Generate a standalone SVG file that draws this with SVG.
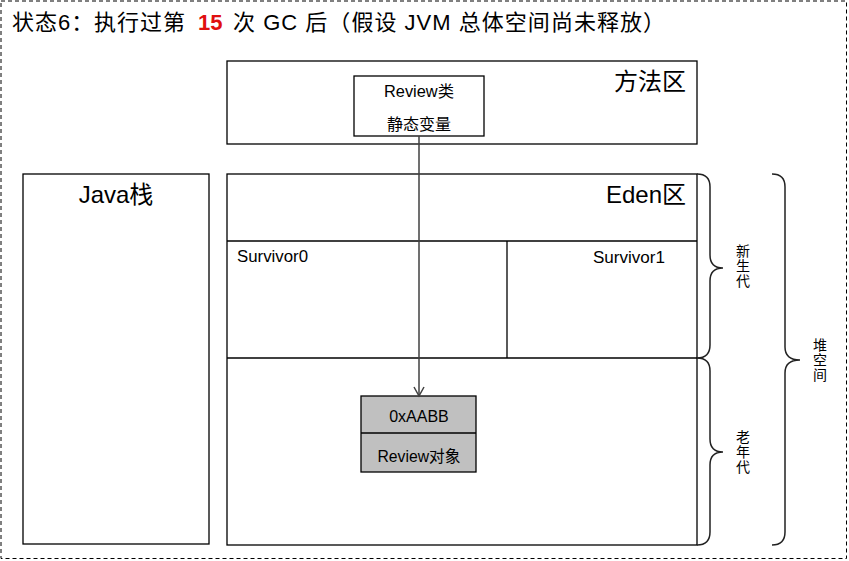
<svg xmlns="http://www.w3.org/2000/svg" width="849" height="561" viewBox="0 0 849 561">
<defs>
<style>
text{font-family:"Liberation Sans","Noto Sans CJK SC",sans-serif;fill:#000}
.box{fill:#fff;stroke:#000;stroke-width:1.3}
.ln{stroke:#000;stroke-width:1.3;fill:none}
.brace{fill:none;stroke:#222;stroke-width:1.5}
.big{font-size:24px}
.mid{font-size:16px}
.ttl{font-size:22px}
.vt{font-size:14px;text-anchor:middle}
</style>
<marker id="arr" markerWidth="12" markerHeight="12" refX="10" refY="6" orient="auto" markerUnits="userSpaceOnUse">
<path d="M1,1 L10,6 L1,11" fill="none" stroke="#404040" stroke-width="1.5"/>
</marker>
</defs>
<rect x="1" y="1" width="845.5" height="557.5" fill="#fff" stroke="#000" stroke-width="1" stroke-dasharray="4,3"/>
<g id="title">
<text class="ttl" x="12" y="30" textLength="173" lengthAdjust="spacing">状态6：执行过第</text>
<text class="ttl" x="198" y="30" fill="#e01010" font-weight="bold" style="fill:#e01010">15</text>
<text class="ttl" x="233" y="30" textLength="432" lengthAdjust="spacing">次 GC 后（假设 JVM 总体空间尚未释放）</text>
</g>

<g id="method-area">
<rect class="box" x="227" y="61" width="470" height="83"/>
<text class="big" x="686" y="90" text-anchor="end">方法区</text>
</g>
<g id="review-class">
<rect class="box" x="354" y="76" width="130" height="60"/>
<text class="mid" x="419" y="97" text-anchor="middle" font-size="15" textLength="70" lengthAdjust="spacingAndGlyphs">Review类</text>
<text class="mid" x="419" y="130" text-anchor="middle">静态变量</text>
</g>
<g id="java-stack">
<rect class="box" x="23" y="174" width="186" height="370"/>
<text class="big" x="116" y="203" text-anchor="middle">Java栈</text>
</g>
<g id="heap">
<rect class="box" x="227" y="174" width="470" height="371"/>
<line class="ln" x1="227" y1="241" x2="697" y2="241"/>
<line class="ln" x1="227" y1="358" x2="697" y2="358"/>
<line class="ln" x1="507" y1="241" x2="507" y2="358"/>
</g>
<g id="eden">
<text class="big" x="686" y="203" text-anchor="end">Eden区</text>
</g>
<g id="survivor0">
<text class="mid" x="237" y="262" textLength="71" lengthAdjust="spacingAndGlyphs">Survivor0</text>
</g>
<g id="survivor1">
<text class="mid" x="593" y="263" textLength="72" lengthAdjust="spacingAndGlyphs">Survivor1</text>
</g>
<g id="review-object">
<rect x="361" y="396" width="115" height="76" fill="#c0c0c0" stroke="#000" stroke-width="1.3"/>
<line class="ln" x1="361" y1="433" x2="476" y2="433"/>
<text class="mid" x="419" y="422" text-anchor="middle">0xAABB</text>
<text class="mid" x="419" y="462" text-anchor="middle" textLength="83" lengthAdjust="spacingAndGlyphs">Review对象</text>
</g>
<g id="young-gen">
<path class="brace" d="M697,174 Q710,174 710,187 L710,255 Q710,268 723,268 Q710,268 710,281 L710,345 Q710,358 697,358"/>
<text class="vt" x="743" y="256">新</text>
<text class="vt" x="743" y="271">生</text>
<text class="vt" x="743" y="286">代</text>
</g>
<g id="old-gen">
<path class="brace" d="M697,358 Q710,358 710,371 L710,439 Q710,452 723,452 Q710,452 710,465 L710,532 Q710,545 697,545"/>
<text class="vt" x="743" y="442">老</text>
<text class="vt" x="743" y="457">年</text>
<text class="vt" x="743" y="472">代</text>
</g>
<g id="heap-space">
<path class="brace" d="M772,174 Q785,174 785,187 L785,347 Q785,360 800,360 Q785,360 785,373 L785,532 Q785,545 772,545"/>
<text class="vt" x="820" y="350">堆</text>
<text class="vt" x="820" y="365">空</text>
<text class="vt" x="820" y="380">间</text>
</g>
<g id="connectors">
<line x1="419" y1="136" x2="419" y2="396" stroke="#404040" stroke-width="1.5" marker-end="url(#arr)"/>
</g>
</svg>
